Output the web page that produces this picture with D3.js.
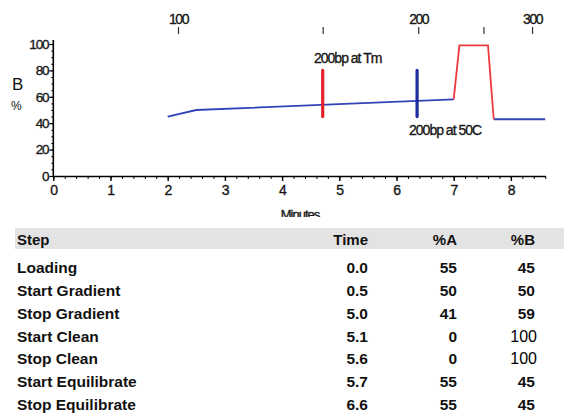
<!DOCTYPE html>
<html>
<head>
<meta charset="utf-8">
<script src="https://cdn.jsdelivr.net/npm/d3@7"></script>
<style>
  html, body { margin: 0; padding: 0; background: #fff; }
  svg { display: block; }
  text { font-family: "Liberation Sans", Arial, sans-serif; }
</style>
</head>
<body>
<svg id="chart" width="564" height="420"></svg>
<script>
// ---- Chart data ----
const blueTime1 = [2.0, 2.5, 7.0];
const blueB1    = [45, 50, 58];
const redTime   = [7.0, 7.1, 7.6, 7.7];
const redB      = [58, 99, 99, 43];
const blueTime2 = [7.7, 8.6];
const blueB2    = [43, 43];

const markerLabels = ["200bp at Tm", "200bp at 50C"];
const markerTimes  = [4.71, 6.36];
const markerLow    = [45, 45];
const markerHigh   = [80, 80];

const xTicks = [0, 1, 2, 3, 4, 5, 6, 7, 8];
const yTicks = [0, 20, 40, 60, 80, 100];

// top bp axis: sizes and the minute they line up with
const bpTicks   = [100, 150, 200, 250, 300];
const bpMinutes = [2.18, 4.71, 6.38, 7.52, 8.37];
const bpLabels  = ["100", "", "200", "", "300"];

// ---- Table data ----
const steps  = ["Loading", "Start Gradient", "Stop Gradient", "Start Clean", "Stop Clean", "Start Equilibrate", "Stop Equilibrate"];
const times  = ["0.0", "0.5", "5.0", "5.1", "5.6", "5.7", "6.6"];
const pctA   = ["55", "50", "41", "0", "0", "55", "55"];
const pctB   = ["45", "50", "59", "100", "100", "45", "45"];
const headers = ["Step", "Time", "%A", "%B"];

const svg = d3.select("#chart");

// clip for chart image area (the original is cropped right under "Minutes")
svg.append("defs").append("clipPath").attr("id", "chartClip")
  .append("rect").attr("x", 0).attr("y", 0).attr("width", 564).attr("height", 217);

const g = svg.append("g").attr("clip-path", "url(#chartClip)");

const x = d3.scaleLinear().domain([0, 8.6]).range([53.3, 545.2]);
const y = d3.scaleLinear().domain([0, 100]).range([176, 44]);

const soft = sel => sel.attr("stroke", "#222").attr("stroke-width", 0.35).attr("fill", "#111");

// X axis
const xAxisG = g.append("g").attr("transform", "translate(0,176)");
xAxisG.call(d3.axisBottom(x).tickValues(d3.range(0, 8.61, 0.2)).tickSize(3).tickSizeOuter(0).tickFormat(""));
xAxisG.call(g2 => g2.selectAll(".tick line").attr("stroke", "#000").attr("stroke-width", 1));
const xMajor = g.append("g").attr("transform", "translate(0,176)")
  .call(d3.axisBottom(x).tickValues(xTicks).tickSize(5).tickSizeOuter(0).tickPadding(4).tickFormat(d3.format("d")));
xMajor.select(".domain").attr("stroke", "#000").attr("stroke-width", 1.6);
xAxisG.select(".domain").remove();
xMajor.selectAll(".tick line").attr("stroke-width", 1.4);
xMajor.selectAll("text").attr("font-size", 14).attr("letter-spacing", -0.5).call(soft);

// Y axis
const yMinor = g.append("g").attr("transform", "translate(53.3,0)")
  .call(d3.axisLeft(y).tickValues(d3.range(0, 101, 5)).tickSize(2).tickSizeOuter(0).tickFormat(""));
yMinor.select(".domain").remove();
const yMajor = g.append("g").attr("transform", "translate(53.3,0)")
  .call(d3.axisLeft(y).tickValues(yTicks).tickSize(4).tickSizeOuter(0).tickPadding(1).tickFormat(d3.format("d")));
yMajor.select(".domain").attr("stroke", "#000").attr("stroke-width", 1.6).attr("d", "M0,176V40");
yMajor.selectAll(".tick line").attr("stroke-width", 1.2);
yMajor.selectAll("text").attr("font-size", 13.5).attr("letter-spacing", -1.2).call(soft);

// Axis titles
g.append("text").attr("x", 12).attr("y", 90).attr("font-size", 17).attr("fill", "#111").text("B");
g.append("text").attr("x", 11).attr("y", 110).attr("font-size", 12).attr("fill", "#111").text("%");
g.append("text").attr("x", 300).attr("y", 219).attr("text-anchor", "middle")
  .attr("font-size", 13).attr("letter-spacing", -1).call(soft).text("Minutes");

// Top bp axis
const bp = d3.scaleLinear().domain(bpTicks).range(bpMinutes.map(m => x(m)));
const topAxis = g.append("g").attr("transform", "translate(0,34)")
  .call(d3.axisTop(bp).tickValues(bpTicks).tickSize(7).tickPadding(3).tickFormat((d, i) => bpLabels[i]));
topAxis.select(".domain").remove();
topAxis.selectAll(".tick line").attr("stroke", "#333").attr("stroke-width", 1.2);
topAxis.selectAll("text").attr("font-size", 14).attr("letter-spacing", -1.5).call(soft);

// Lines
const line = d3.line().x(d => x(d[0])).y(d => y(d[1]));
g.append("path").datum(blueTime1.map((t, i) => [t, blueB1[i]]))
  .attr("d", line).attr("fill", "none").attr("stroke", "#2f44b8").attr("stroke-width", 1.8);
g.append("path").datum(blueTime2.map((t, i) => [t, blueB2[i]]))
  .attr("d", line).attr("fill", "none").attr("stroke", "#2f44b8").attr("stroke-width", 1.8);
g.append("path").datum(redTime.map((t, i) => [t, redB[i]]))
  .attr("d", line).attr("fill", "none").attr("stroke", "#ee3a3e").attr("stroke-width", 1.8);

// Markers
const markerColors = ["#e5222a", "#1c2c9e"];
markerTimes.forEach((t, i) => {
  g.append("line")
    .attr("x1", x(t)).attr("x2", x(t))
    .attr("y1", y(markerLow[i])).attr("y2", y(markerHigh[i]))
    .attr("stroke", markerColors[i]).attr("stroke-width", 3.2).attr("stroke-linecap", "round");
});
g.append("text").attr("x", x(markerTimes[0]) + 25).attr("y", 63).attr("text-anchor", "middle")
  .attr("font-size", 14).attr("letter-spacing", -1.0).call(soft).text(markerLabels[0]);
g.append("text").attr("x", x(markerTimes[1]) + 28).attr("y", 135).attr("text-anchor", "middle")
  .attr("font-size", 14).attr("letter-spacing", -1.0).call(soft).text(markerLabels[1]);

// ---- Table ----
const colRight = [null, 368, 457, 535];
svg.append("rect").attr("x", 15).attr("y", 228).attr("width", 549).attr("height", 21).attr("fill", "#e3e3e3");
const hdr = svg.append("g").attr("font-weight", "bold").attr("font-size", 15).attr("fill", "#111");
headers.forEach((h, i) => {
  hdr.append("text")
    .attr("x", i === 0 ? 17 : colRight[i])
    .attr("y", 245)
    .attr("text-anchor", i === 0 ? "start" : "end")
    .text(h);
});

const rowY = d3.scaleLinear().domain([0, steps.length - 1]).range([273, 410]);
const rows = svg.append("g").attr("font-size", 15.5).attr("fill", "#111");
steps.forEach((s, i) => {
  const yy = rowY(i);
  rows.append("text").attr("x", 17).attr("y", yy).attr("font-weight", "bold").text(s);
  rows.append("text").attr("x", colRight[1]).attr("y", yy).attr("text-anchor", "end").attr("font-weight", "bold").text(times[i]);
  rows.append("text").attr("x", colRight[2]).attr("y", yy).attr("text-anchor", "end").attr("font-weight", "bold").text(pctA[i]);
  const isPlain = pctB[i] === "100";
  rows.append("text").attr("x", colRight[3] + (isPlain ? 2 : 0)).attr("y", yy).attr("text-anchor", "end")
    .attr("font-weight", isPlain ? "normal" : "bold").attr("font-size", isPlain ? 16 : 15.5).attr("fill", isPlain ? "#000" : "#111")
    .text(pctB[i]);
});
</script>
</body>
</html>
